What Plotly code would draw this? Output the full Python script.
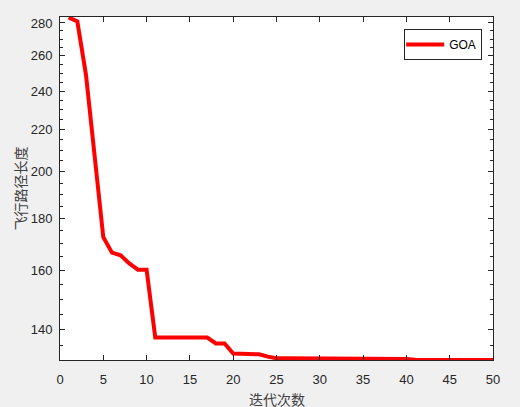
import math
import plotly.graph_objects as go

# iteration number vs best path length
iters = list(range(1, 51))
path_len = [
    283.5, 281.0, 249.0, 208.0, 172.5, 166.6, 165.6, 162.6, 160.3, 160.3,
    137.5, 137.5, 137.5, 137.5, 137.5, 137.5, 137.5, 135.7, 135.7, 132.6,
    132.6, 132.6, 132.4, 131.7, 131.2, 131.2, 131.2, 131.0, 131.0, 131.0,
    131.0, 131.0, 131.0, 131.0, 131.0, 131.0, 131.0, 131.0, 131.0, 131.0,
    130.8, 130.8, 130.8, 130.8, 130.8, 130.7, 130.7, 130.7, 130.7, 130.7,
]
x_ticks = [0, 5, 10, 15, 20, 25, 30, 35, 40, 45, 50]
y_ticks = [140, 160, 180, 200, 220, 240, 260, 280]
y_minor = [v for v in range(135, 285, 5) if v not in y_ticks]

axis_col = "#262626"
font = dict(family="Liberation Sans, Arial, sans-serif", size=13, color=axis_col)
cjk = dict(family="Noto Sans CJK SC, sans-serif", size=14, color="#404040")

fig = go.Figure()
fig.add_trace(go.Scatter(
    x=iters, y=path_len, mode="lines", name="GOA",
    line=dict(color="#ff0000", width=4),
))

fig.update_layout(
    width=520, height=407,
    margin=dict(l=60, r=27, t=17, b=47),
    paper_bgcolor="#f0f0f0", plot_bgcolor="white",
    font=font,
    showlegend=True,
    legend=dict(
        x=0.975, y=0.965, xanchor="right", yanchor="top",
        bgcolor="white", bordercolor=axis_col, borderwidth=1,
        font=dict(family="Liberation Sans, Arial, sans-serif", size=12, color="black"),
        itemwidth=38, tracegroupgap=0, indentation=-4,
    ),
)
# x label as an annotation, just under the tick labels
fig.add_annotation(
    text="迭代次数", font=cjk, showarrow=False,
    xref="paper", yref="paper", x=0.5, y=-0.113, yanchor="middle",
)
fig.update_xaxes(
    range=[0, 50], tickvals=x_ticks, ticks="inside", ticklen=5,
    showline=True, linecolor=axis_col, linewidth=1, mirror="ticks",
    showgrid=False, zeroline=False, tickcolor=axis_col,
    automargin=False, ticklabelstandoff=7,
)
fig.update_yaxes(
    type="log", range=[math.log10(130.7), math.log10(283.8)],
    tickvals=y_ticks, ticks="inside", ticklen=5,
    minor=dict(tickvals=y_minor, ticks="inside", ticklen=3, tickcolor=axis_col, showgrid=False),
    showline=True, linecolor=axis_col, linewidth=1, mirror="ticks",
    showgrid=False, zeroline=False, tickcolor=axis_col,
    automargin=False, ticklabelstandoff=4,
    title=dict(text="飞行路径长度", font=cjk, standoff=0),
)

fig.write_html("out.html", config={"displayModeBar": False},
               post_script="document.body.style.margin='0';")
